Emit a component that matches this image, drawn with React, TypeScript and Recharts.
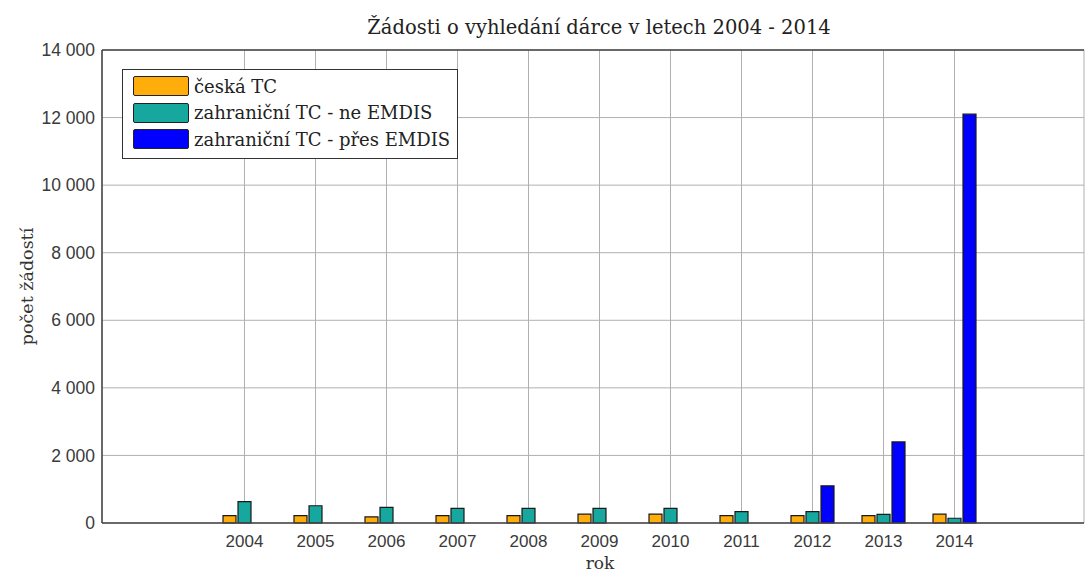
import React from "react";
import {
  BarChart,
  Bar,
  XAxis,
  YAxis,
  CartesianGrid,
  Legend,
  ReferenceLine,
} from "recharts";

const years = ["2004", "2005", "2006", "2007", "2008", "2009", "2010", "2011", "2012", "2013", "2014"];
const ceskaTC = [220, 220, 180, 220, 220, 260, 260, 220, 220, 220, 260];
const zahranicniNeEmdis = [630, 510, 465, 435, 435, 435, 430, 335, 335, 255, 140];
const zahranicniPresEmdis = [0, 0, 0, 0, 0, 0, 0, 0, 1100, 2400, 12100];
const yTicks = [0, 2000, 4000, 6000, 8000, 10000, 12000, 14000];

const series = [
  { key: "ceska", name: "česká TC", color: "#FFAD0A" },
  { key: "neEmdis", name: "zahraniční TC - ne EMDIS", color: "#16A89E" },
  { key: "presEmdis", name: "zahraniční TC - přes EMDIS", color: "#0000FF" },
];

const data = years.map((rok, i) => ({
  rok,
  ceska: ceskaTC[i],
  neEmdis: zahranicniNeEmdis[i],
  presEmdis: zahranicniPresEmdis[i],
}));

const serif = "'DejaVu Serif', 'Liberation Serif', serif";
const sans = "'Liberation Sans', Arial, sans-serif";

// thousands separated by a space, as in the original
const formatThousands = (v: number) => String(v).replace(/\B(?=(\d{3})+(?!\d))/g, " ");

const LegendBox = () => (
  <div
    style={{
      background: "#fff",
      border: "1px solid #333",
      padding: "3px 7px 5px 10px",
      fontFamily: serif,
      fontSize: 18,
      color: "#222",
    }}
  >
    {series.map((s) => (
      <div key={s.key} style={{ display: "flex", alignItems: "center", height: 26.5 }}>
        <div
          style={{
            width: 54,
            height: 18,
            background: s.color,
            border: "1.5px solid #222",
            borderRadius: 2,
            marginRight: 5,
          }}
        />
        <span style={{ whiteSpace: "nowrap" }}>{s.name}</span>
      </div>
    ))}
  </div>
);

const YLabel = (props: any) => {
  const { viewBox } = props;
  return (
    <text
      x={0}
      y={0}
      transform={`translate(33, ${viewBox.y + viewBox.height / 2}) rotate(-90)`}
      textAnchor="middle"
      fontFamily={serif}
      fontSize={17.5}
      fill="#333"
    >
      počet žádostí
    </text>
  );
};

const XLabel = () => (
  <text x={600} y={569} textAnchor="middle" fontFamily={serif} fontSize={17} fill="#333">
    rok
  </text>
);

export default function App() {
  return (
    <div style={{ position: "absolute", left: 0, top: 0, width: 1085, height: 572, background: "#fff" }}>
      <div
        style={{
          position: "absolute",
          left: 0,
          width: 1198,
          top: 17,
          textAlign: "center",
          fontFamily: serif,
          fontSize: 19.5,
          lineHeight: "22px",
          color: "#222",
          whiteSpace: "nowrap",
        }}
      >
        Žádosti o vyhledání dárce v letech 2004 - 2014
      </div>
      <div style={{ position: "absolute", left: 0, top: 0 }}>
        <BarChart
          width={1085}
          height={572}
          data={data}
          margin={{ top: 50, right: 1, left: 0, bottom: 0 }}
          barSize={13}
          barGap={2}
        >
          <CartesianGrid stroke="#b0b0b0" strokeWidth={1} />
          <XAxis
            dataKey="rok"
            height={49}
            padding={{ left: 107, right: 94 }}
            tickLine={false}
            tickSize={10}
            tick={{ fontFamily: sans, fontSize: 17, fill: "#3a3a3a" }}
            axisLine={{ stroke: "#444", strokeWidth: 1.5 }}
            label={<XLabel />}
          />
          <YAxis
            width={102}
            domain={[0, 14000]}
            ticks={yTicks}
            interval={0}
            tickFormatter={formatThousands}
            tickLine={false}
            tickSize={5}
            tick={{ fontFamily: sans, fontSize: 17.5, fill: "#3a3a3a" }}
            axisLine={{ stroke: "#444", strokeWidth: 1.5 }}
            label={<YLabel />}
          />
          <ReferenceLine y={14000} stroke="#444" strokeWidth={1.5} />
          <Legend
            layout="vertical"
            align="center"
            verticalAlign="middle"
            content={<LegendBox />}
            wrapperStyle={{ position: "absolute", left: 122, top: 69, width: "auto", height: "auto" }}
          />
          {series.map((s) => (
            <Bar
              key={s.key}
              dataKey={s.key}
              name={s.name}
              fill={s.color}
              stroke="#1a1a1a"
              strokeWidth={1.2}
              isAnimationActive={false}
            />
          ))}
        </BarChart>
      </div>
    </div>
  );
}
